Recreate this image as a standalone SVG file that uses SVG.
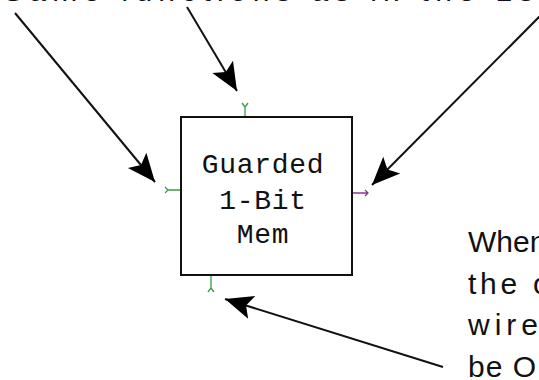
<svg xmlns="http://www.w3.org/2000/svg" width="539" height="380" viewBox="0 0 539 380">
  <style>
    .note { font-family: "Liberation Sans", Arial, sans-serif; font-size: 30px; fill: #111; }
    .label { font-family: "Liberation Mono", "Courier New", monospace; font-size: 28px; fill: #111; text-anchor: middle; letter-spacing: 0.7px; }
    .box { fill: #fff; stroke: #111; stroke-width: 2; }
    .pin-in { stroke: #3f9a4a; stroke-width: 1.3; fill: none; }
    .pin-out { stroke: #8a3a94; stroke-width: 1.3; fill: none; }
    .conn { stroke: #111; stroke-width: 2; fill: none; marker-end: url(#head); }
  </style>
  <defs>
    <marker id="head" viewBox="-30 -14 32 28" refX="0" refY="0" markerWidth="32" markerHeight="28" markerUnits="userSpaceOnUse" orient="auto">
      <path d="M0,0 L-28,-12 L-22,0 L-28,12 Z" fill="#000"/>
    </marker>
  </defs>
  <rect width="539" height="380" fill="#fff"/>

  <g id="note-top">
    <text class="note" x="3" y="1" textLength="545" lengthAdjust="spacing">Same functions as in the 1st</text>
  </g>

  <g id="note-right">
    <text class="note" x="468" y="252">When</text>
    <text class="note" x="468" y="294" letter-spacing="3.75">the o</text>
    <text class="note" x="468" y="335" letter-spacing="5">wire</text>
    <text class="note" x="468" y="377" letter-spacing="1">be O</text>
  </g>

  <g id="mem">
    <rect class="box" x="181" y="117" width="171" height="158"/>
    <text class="label" x="263" y="173">Guarded</text>
    <text class="label" x="263" y="209">1-Bit</text>
    <text class="label" x="263" y="243">Mem</text>
    <g id="pin-top">
      <path class="pin-in" d="M245,116 V107 M245,107 L242,103 M245,107 L248,103"/>
    </g>
    <g id="pin-left">
      <path class="pin-in" d="M180,190 H168 M168,190 L165,187 M168,190 L165,193"/>
    </g>
    <g id="pin-bottom">
      <path class="pin-in" d="M211,276 V288 M211,288 L208,292 M211,288 L214,292"/>
    </g>
    <g id="pin-right">
      <path class="pin-out" d="M353,193 H368 M365,190 L368,193 L365,196"/>
    </g>
  </g>

  <g id="connectors">
    <line class="conn" x1="15" y1="13" x2="155" y2="182"/>
    <line class="conn" x1="187" y1="7" x2="237" y2="91"/>
    <line class="conn" x1="545" y1="11" x2="372" y2="185"/>
    <line class="conn" x1="443" y1="367" x2="225" y2="299"/>
  </g>
</svg>
